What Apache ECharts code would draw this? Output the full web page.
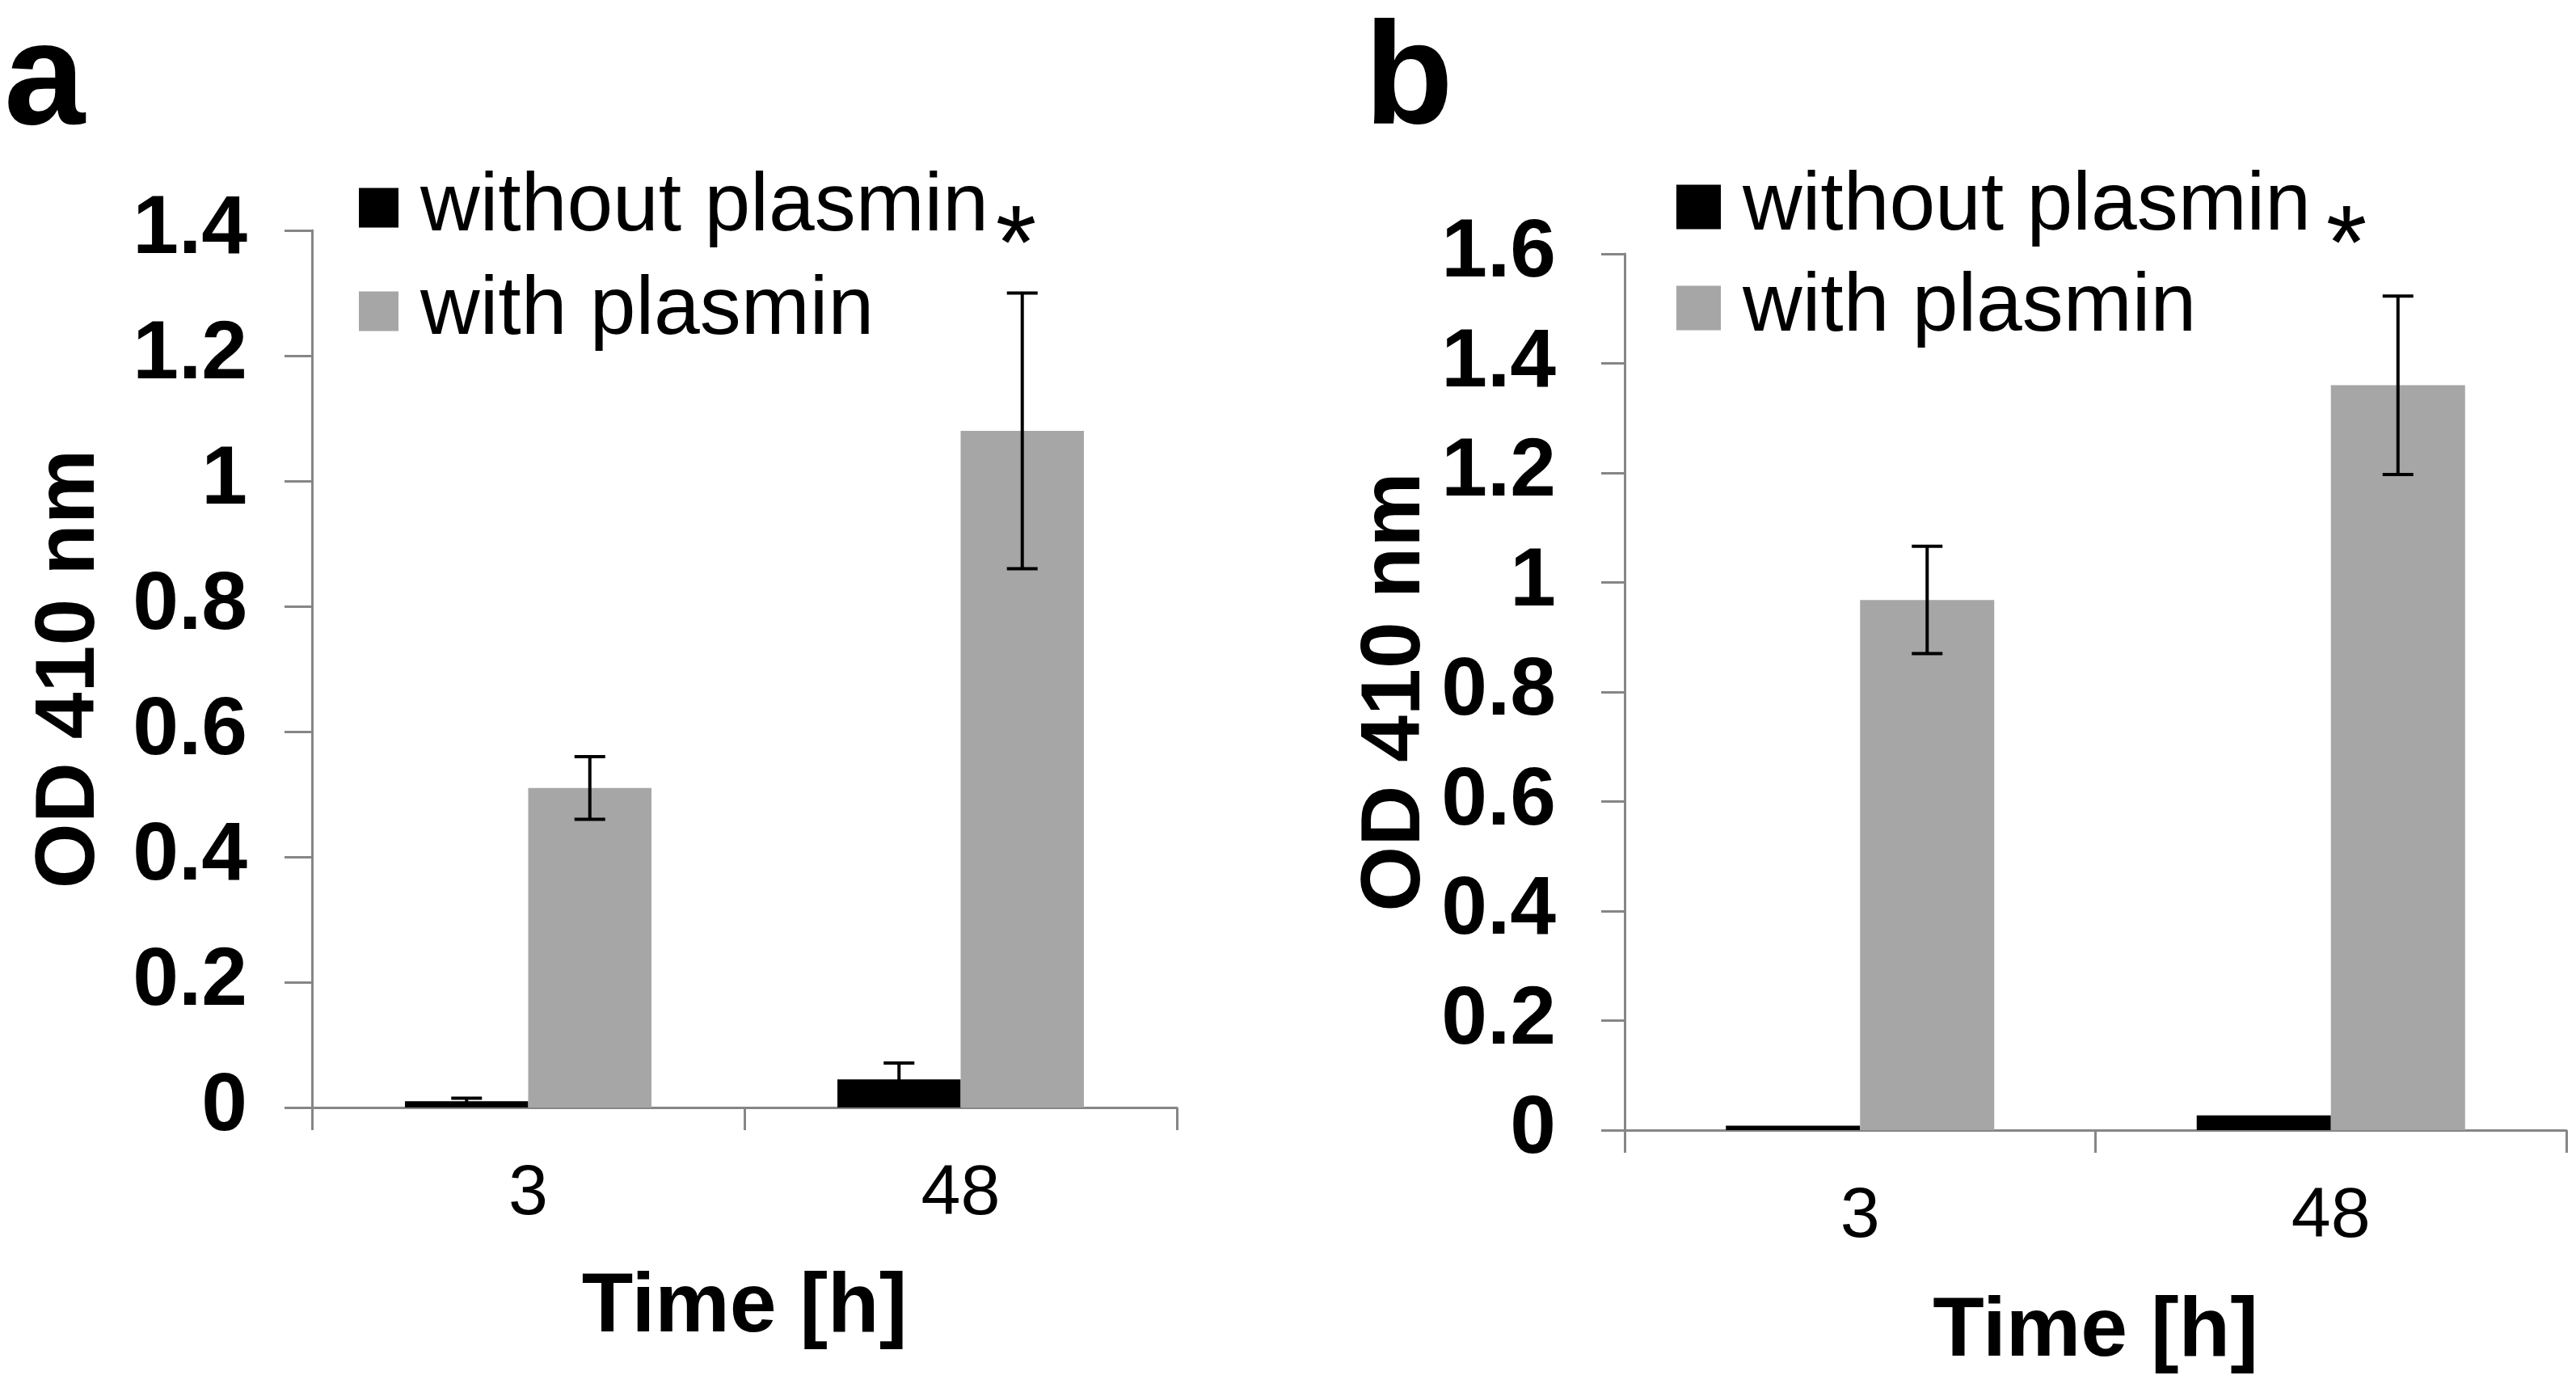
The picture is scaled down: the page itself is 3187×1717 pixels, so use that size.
<!DOCTYPE html>
<html>
<head>
<meta charset="utf-8">
<script src="https://cdn.jsdelivr.net/npm/echarts@6/dist/echarts.min.js"></script>
<style>
html,body{margin:0;padding:0;background:#fff;}
#chart{width:3187px;height:1717px;}
</style>
</head>
<body>
<div id="chart"></div>
<script>
// ---- data ----
const categories = ['3', '48'];
const seriesNames = ['without plasmin', 'with plasmin'];

const aWithout = [0.010, 0.045];
const aWithoutErr = [0.005, 0.026];
const aWith = [0.510, 1.080];
const aWithErr = [0.050, 0.220];

const bWithout = [0.008, 0.027];
const bWithoutErr = [0, 0];
const bWith = [0.968, 1.360];
const bWithErr = [0.098, 0.163];

const aYMax = 1.4;
const bYMax = 1.6;
const yInterval = 0.2;

// ---- style ----
const FONT = 'Liberation Sans';
const AXIS_COLOR = '#868686';
const GRAY = '#a6a6a6';
const BLACK = '#000000';
const CAT_GAP = 0.43;

function errorSeries(name, axisIdx, values, errs, side) {
  return {
    type: 'custom',
    name: name + ' error',
    xAxisIndex: axisIdx,
    yAxisIndex: axisIdx,
    z: 10,
    silent: true,
    data: values.map((v, i) => [i, v, errs[i]]),
    renderItem: function (params, api) {
      const i = api.value(0), v = api.value(1), e = api.value(2);
      if (!e) return null;
      const band = api.size([1, 0])[0];
      const bw = band * (1 - CAT_GAP) / 2;
      const x = api.coord([i, v])[0] + side * bw / 2;
      const yHi = api.coord([i, v + e])[1];
      const yLo = api.coord([i, Math.max(0, v - e)])[1];
      const cap = 19;
      const st = { stroke: '#000', lineWidth: 4 };
      return {
        type: 'group',
        children: [
          { type: 'line', shape: { x1: x, y1: yHi, x2: x, y2: yLo }, style: st },
          { type: 'line', shape: { x1: x - cap, y1: yHi, x2: x + cap, y2: yHi }, style: st },
          { type: 'line', shape: { x1: x - cap, y1: yLo, x2: x + cap, y2: yLo }, style: st }
        ]
      };
    }
  };
}

function barSeries(name, axisIdx, values, color) {
  return {
    type: 'bar',
    name: name,
    xAxisIndex: axisIdx,
    yAxisIndex: axisIdx,
    data: values,
    barGap: '0%',
    barCategoryGap: (CAT_GAP * 100) + '%',
    itemStyle: { color: color },
    silent: true
  };
}

function xAxis(gridIndex, nameGap) {
  return {
    type: 'category',
    gridIndex: gridIndex,
    data: categories,
    boundaryGap: true,
    axisLine: { show: true, lineStyle: { color: AXIS_COLOR, width: 3 } },
    axisTick: { show: true, length: 28, alignWithLabel: false, lineStyle: { color: AXIS_COLOR, width: 3 } },
    axisLabel: { margin: 64, fontFamily: FONT, fontSize: 88, color: '#000' },
    name: 'Time [h]',
    nameLocation: 'middle',
    nameGap: nameGap,
    nameTextStyle: { fontFamily: FONT, fontSize: 104, fontWeight: 'bold', color: '#000' }
  };
}

function yAxis(gridIndex, max, tickLen, labelMargin, nameGap) {
  return {
    type: 'value',
    gridIndex: gridIndex,
    min: 0,
    max: max,
    interval: yInterval,
    splitLine: { show: false },
    axisLine: { show: true, lineStyle: { color: AXIS_COLOR, width: 3 } },
    axisTick: { show: true, length: tickLen, lineStyle: { color: AXIS_COLOR, width: 3 } },
    axisLabel: { margin: labelMargin, fontFamily: FONT, fontSize: 102, fontWeight: 'bold', color: '#000' },
    name: 'OD 410 nm',
    nameLocation: 'middle',
    nameRotate: 90,
    nameGap: nameGap,
    nameTextStyle: { fontFamily: FONT, fontSize: 104, fontWeight: 'bold', color: '#000' }
  };
}

function legend(left, top, size, gap) {
  return {
    left: left,
    top: top,
    orient: 'vertical',
    icon: 'rect',
    itemWidth: size,
    itemHeight: size,
    itemGap: gap,
    selectedMode: false,
    data: seriesNames,
    textStyle: { fontFamily: FONT, fontSize: 102, color: '#000', padding: [0, 0, 0, 22] }
  };
}

const chart = echarts.init(document.getElementById('chart'), null, { renderer: 'canvas' });
chart.setOption({
  animation: false,
  backgroundColor: '#ffffff',
  title: [
    { text: 'a', left: 0, top: 8, textStyle: { fontFamily: FONT, fontSize: 180, fontWeight: 'bold', color: '#000' } },
    { text: 'b', left: 1683, top: 8, textStyle: { fontFamily: FONT, fontSize: 180, fontWeight: 'bold', color: '#000' } }
  ],
  legend: [
    legend(439, 201, 49, 26),
    legend(2069, 200, 55, 23)
  ],
  grid: [
    { left: 386, top: 285, width: 1070, height: 1085, containLabel: false },
    { left: 2010, top: 314, width: 1165, height: 1084, containLabel: false }
  ],
  xAxis: [xAxis(0, 196), xAxis(1, 198)],
  yAxis: [yAxis(0, aYMax, 34, 80, 247), yAxis(1, bYMax, 29, 85, 210)],
  graphic: [
    { type: 'text', x: 1257, y: 309, style: { text: '*', font: 'normal 130px "Liberation Sans"', fill: '#000', align: 'center', verticalAlign: 'middle' } },
    { type: 'text', x: 2903, y: 309, style: { text: '*', font: 'normal 130px "Liberation Sans"', fill: '#000', align: 'center', verticalAlign: 'middle' } }
  ],
  series: [
    barSeries(seriesNames[0], 0, aWithout, BLACK),
    barSeries(seriesNames[1], 0, aWith, GRAY),
    errorSeries(seriesNames[0], 0, aWithout, aWithoutErr, -1),
    errorSeries(seriesNames[1], 0, aWith, aWithErr, 1),
    barSeries(seriesNames[0], 1, bWithout, BLACK),
    barSeries(seriesNames[1], 1, bWith, GRAY),
    errorSeries(seriesNames[0], 1, bWithout, bWithoutErr, -1),
    errorSeries(seriesNames[1], 1, bWith, bWithErr, 1)
  ]
});
</script>
</body>
</html>
